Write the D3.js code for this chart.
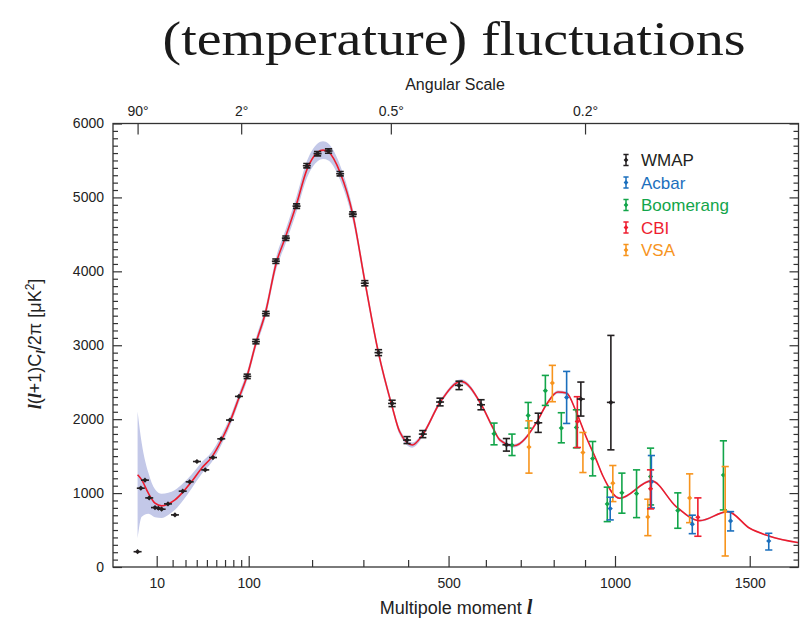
<!DOCTYPE html>
<html>
<head>
<meta charset="utf-8">
<script src="https://cdn.jsdelivr.net/npm/d3@7"></script>
<style>
body { margin: 0; background: #fff; }
svg text { font-family: "Liberation Sans", Arial, Helvetica, sans-serif; }
</style>
</head>
<body>
<div id="chart"></div>
<script>
// WMAP binned spectrum (multipole, value, lower, upper) in uK^2
let wmapL  = [2, 3, 4.5, 6.3, 9.1, 10.9, 12.8, 16.8, 21.7, 27.7, 33.6, 40.2, 48.3, 56.4, 65.6, 75.9, 87.1,
              98, 110, 124.4, 139.5, 155.3, 173, 190.7, 209.9, 230.3, 252.7, 278.1, 303, 332.5, 362.8,
              397.5, 435.2, 478.2, 527.4, 586.6, 658.2, 752.4, 886.4, 986];
let wmapV  = [207, 1066, 1175, 935, 804, 795, 782, 854, 705, 1026, 1152, 1427, 1314, 1481, 1734, 1988, 2308,
              2579, 3049, 3428, 4137, 4449, 4882, 5429, 5592, 5627, 5321, 4774, 3839, 2900, 2213,
              1717, 1798, 2232, 2457, 2195, 1653, 1951, 2272, 2227];
let wmapLo = [207, 1066, 1175, 935, 804, 795, 782, 854, 705, 1026, 1152, 1427, 1314, 1481, 1734, 1988, 2308,
              2549, 3019, 3398, 4107, 4419, 4852, 5399, 5562, 5597, 5291, 4744, 3804, 2860, 2170,
              1670, 1750, 2180, 2400, 2127, 1568, 1821, 2042, 1585];
let wmapHi = [207, 1066, 1175, 935, 804, 795, 782, 854, 705, 1026, 1152, 1427, 1314, 1481, 1734, 1988, 2308,
              2609, 3079, 3458, 4167, 4479, 4912, 5459, 5622, 5657, 5351, 4804, 3874, 2940, 2256,
              1764, 1846, 2284, 2514, 2263, 1738, 2081, 2502, 3133];

let acbarL  = [840.7, 983.7, 1127, 1277, 1424, 1577];
let acbarV  = [2294, 790, 1152, 579, 623, 352];
let acbarLo = [1942, 637, 799, 451, 488, 230];
let acbarHi = [2646, 944, 1508, 701, 749, 457];

let boomL  = [622.8, 674.3, 722, 774.2, 823.9, 872, 925, 973.8, 1023.6, 1074.5, 1124, 1223, 1396];
let boomV  = [1802, 1649, 2050, 2385, 1879, 1888, 1467, 854, 1003, 993, 1224, 763, 1243];
let boomLo = [1653, 1508, 1879, 2186, 1680, 1612, 1233, 614, 728, 668, 840, 524, 772];
let boomHi = [1947, 1798, 2226, 2592, 2087, 2127, 1698, 1080, 1270, 1314, 1608, 1003, 1707];

let cbiL  = [875, 1124, 1298];
let cbiV  = [1969, 1057, 673];
let cbiLo = [1617, 786, 416];
let cbiHi = [2304, 1314, 935];

let vsaL  = [724.4, 795.8, 893.1, 992.6, 1114.4, 1267, 1403];
let vsaV  = [1622, 2489, 1549, 1134, 678, 935, 755];
let vsaLo = [1270, 2236, 1278, 885, 424, 600, 149];
let vsaHi = [1978, 2728, 1820, 1373, 917, 1260, 1359];

// best fit model and the width of the shaded band around it
let modelL = [2, 3.3, 5.9, 9.1, 12.8, 17, 21.7, 28.2, 35.3, 44.7, 55, 66, 76, 87, 98, 110, 124, 140, 155, 173,
              191, 210, 220, 230, 253, 278, 303, 332, 363, 380, 410, 435, 478, 533, 587, 620, 639, 680,
              746, 777, 813, 840, 871, 903, 937, 960, 1016, 1127, 1217, 1305, 1413, 1500, 1577, 1720];
let modelV = [1247, 1179, 999, 863, 827, 854, 908, 1020, 1156, 1337, 1486, 1721, 1969, 2286, 2590, 3030, 3450, 4110, 4470, 4910,
              5380, 5610, 5640, 5615, 5330, 4770, 3870, 2910, 2170, 1833, 1650, 1790, 2225, 2511, 2200, 1880, 1721, 1640,
              1947, 2195, 2367, 2354, 2104, 1766, 1450, 1224, 931, 1165, 817, 627, 749, 524, 420, 320];
let bandW  = [857, 500, 280, 190, 165, 150, 135, 115, 95, 80, 70, 65, 60, 60, 60, 65, 70, 85, 95, 105,
              115, 120, 120, 115, 100, 85, 70, 55, 45, 40, 35, 32, 30, 30, 28, 26, 25, 24,
              23, 22, 22, 21, 20, 19, 18, 17, 15, 14, 13, 12, 11, 10, 10, 9];

let xMajor = [10, 100, 500, 1000, 1500];
let xMinor = [20, 30, 40, 50, 60, 70, 80, 90, 200, 300, 400, 600, 700, 800, 900];
let yMajor = [0, 1000, 2000, 3000, 4000, 5000, 6000];
let angles = [90, 2, 0.5, 0.2];
let angleToL = 180;

let series = [
  {name: "WMAP", color: "#231f20"},
  {name: "Acbar", color: "#1b6fbd"},
  {name: "Boomerang", color: "#12a54a"},
  {name: "CBI", color: "#ee1d2f"},
  {name: "VSA", color: "#f7941d"}
];

let width = 809, height = 625;
let plotLeft = 113, plotRight = 798.5, plotTop = 123.5, plotBottom = 567;

let svg = d3.select("#chart").append("svg")
    .attr("width", width)
    .attr("height", height);

let x = d3.scalePow().exponent(0.6).domain([10, 1000]).range([156.7, 615]);
let y = d3.scaleLinear().domain([0, 6000]).range([plotBottom, plotTop]);

svg.append("defs").append("clipPath").attr("id", "plotclip")
  .append("rect")
    .attr("x", plotLeft).attr("y", plotTop)
    .attr("width", plotRight - plotLeft).attr("height", plotBottom - plotTop);

// title
svg.append("text")
    .attr("x", 454)
    .attr("y", 55)
    .attr("text-anchor", "middle")
    .attr("textLength", 583)
    .attr("lengthAdjust", "spacingAndGlyphs")
    .style("font-family", "'Liberation Serif', 'DejaVu Serif', serif")
    .style("font-size", "48px")
    .attr("fill", "#1a1a1a")
    .text("(temperature) fluctuations");

let plot = svg.append("g").attr("clip-path", "url(#plotclip)");

let model = modelL.map((l, i) => ({l: l, v: modelV[i], w: bandW[i]}));

plot.append("path")
    .datum(model)
    .attr("fill", "#c3c8e8")
    .attr("d", d3.area()
        .x(d => x(d.l))
        .y0(d => y(d.v - d.w))
        .y1(d => y(d.v + d.w))
        .curve(d3.curveMonotoneX));

plot.append("path")
    .datum(model)
    .attr("fill", "none")
    .attr("stroke", "#ec1c2c")
    .attr("stroke-width", 1.6)
    .attr("d", d3.line()
        .x(d => x(d.l))
        .y(d => y(d.v))
        .curve(d3.curveMonotoneX));

// axes
let axisColor = "#333";
function styleAxis(g) {
  g.select(".domain").remove();
  g.selectAll(".tick line").attr("stroke", axisColor).attr("stroke-width", 1.2);
  g.selectAll(".tick text").attr("fill", "#222").style("font-size", "14px");
}

svg.append("g").attr("transform", "translate(0," + plotBottom + ")")
    .call(d3.axisBottom(x).tickValues(xMajor).tickFormat(d3.format("d")).tickSizeInner(-11).tickSizeOuter(0).tickPadding(11))
    .call(styleAxis);
svg.append("g").attr("transform", "translate(0," + plotBottom + ")")
    .call(d3.axisBottom(x).tickValues(xMinor).tickFormat("").tickSizeInner(-7).tickSizeOuter(0))
    .call(styleAxis);

let yMinor = d3.range(100, 6000, 100).filter(v => v % 1000 != 0);
svg.append("g").attr("transform", "translate(" + plotLeft + ",0)")
    .call(d3.axisLeft(y).tickValues(yMajor).tickFormat(d3.format("d")).tickSizeInner(-9).tickSizeOuter(0).tickPadding(9))
    .call(styleAxis);
svg.append("g").attr("transform", "translate(" + plotLeft + ",0)")
    .call(d3.axisLeft(y).tickValues(yMinor).tickFormat("").tickSizeInner(-5).tickSizeOuter(0))
    .call(styleAxis);
svg.append("g").attr("transform", "translate(" + plotRight + ",0)")
    .call(d3.axisRight(y).tickValues(yMajor).tickFormat("").tickSizeInner(-9).tickSizeOuter(0))
    .call(styleAxis);
svg.append("g").attr("transform", "translate(" + plotRight + ",0)")
    .call(d3.axisRight(y).tickValues(yMinor).tickFormat("").tickSizeInner(-5).tickSizeOuter(0))
    .call(styleAxis);

svg.append("g").attr("transform", "translate(0," + plotTop + ")")
    .call(d3.axisTop(x).tickValues(angles.map(a => angleToL / a))
        .tickFormat((d, i) => angles[i] + "°").tickSizeInner(-11).tickSizeOuter(0).tickPadding(8))
    .call(styleAxis);

svg.append("rect")
    .attr("x", plotLeft).attr("y", plotTop)
    .attr("width", plotRight - plotLeft).attr("height", plotBottom - plotTop)
    .attr("fill", "none")
    .attr("stroke", axisColor)
    .attr("stroke-width", 1.3);

// axis titles
svg.append("text")
    .attr("x", 455).attr("y", 90)
    .attr("text-anchor", "middle")
    .style("font-size", "16px")
    .attr("fill", "#222")
    .text("Angular Scale");

let xt = svg.append("text")
    .attr("x", 456).attr("y", 614)
    .attr("text-anchor", "middle")
    .style("font-size", "18px")
    .attr("fill", "#222");
xt.append("tspan").text("Multipole moment  ");
xt.append("tspan").text("l")
    .style("font-family", "'Liberation Serif', serif")
    .style("font-style", "italic").style("font-weight", "bold").style("font-size", "20px");

let yt = svg.append("text")
    .attr("transform", "translate(41,344) rotate(-90)")
    .attr("text-anchor", "middle")
    .style("font-size", "18px")
    .attr("fill", "#222");
let ell = s => s.style("font-family", "'Liberation Serif', serif").style("font-style", "italic").style("font-weight", "bold");
yt.append("tspan").text("l").call(ell);
yt.append("tspan").text("(");
yt.append("tspan").text("l").call(ell);
yt.append("tspan").text("+1)C");
yt.append("tspan").text("l").call(ell).attr("dy", 4).style("font-size", "13px");
yt.append("tspan").text("/2π [μK").attr("dy", -4);
yt.append("tspan").text("2").attr("dy", -7).style("font-size", "12px");
yt.append("tspan").text("]").attr("dy", 7);

// data points
function drawSet(ls, vs, lo, hi, color, wmap) {
  let pts = ls.map((l, i) => ({l: l, v: vs[i], lo: lo[i], hi: hi[i]}));
  let g = plot.append("g").attr("stroke", color).attr("fill", color);
  let p = g.selectAll("g").data(pts).enter().append("g")
      .attr("transform", d => "translate(" + x(d.l) + ",0)");
  let withBar = p.filter(d => d.hi > d.lo);
  withBar.append("line")
      .attr("y1", d => y(d.lo)).attr("y2", d => y(d.hi))
      .attr("stroke-width", 1.6);
  withBar.append("line")
      .attr("x1", -3.6).attr("x2", 3.6)
      .attr("y1", d => y(d.lo)).attr("y2", d => y(d.lo))
      .attr("stroke-width", 1.6);
  withBar.append("line")
      .attr("x1", -3.6).attr("x2", 3.6)
      .attr("y1", d => y(d.hi)).attr("y2", d => y(d.hi))
      .attr("stroke-width", 1.6);
  if (wmap) {
    p.append("line")
        .attr("x1", -4).attr("x2", 4)
        .attr("y1", d => y(d.v)).attr("y2", d => y(d.v))
        .attr("stroke-width", 1.6);
  }
  p.append("path")
      .attr("stroke", "none")
      .attr("d", d => "M0," + (y(d.v) - 2.6) + "L2.6," + y(d.v) + "L0," + (y(d.v) + 2.6) + "L-2.6," + y(d.v) + "Z");
}

drawSet(boomL, boomV, boomLo, boomHi, series[2].color, false);
drawSet(vsaL, vsaV, vsaLo, vsaHi, series[4].color, false);
drawSet(acbarL, acbarV, acbarLo, acbarHi, series[1].color, false);
drawSet(cbiL, cbiV, cbiLo, cbiHi, series[3].color, false);
drawSet(wmapL, wmapV, wmapLo, wmapHi, series[0].color, true);

// legend
let legend = svg.append("g").attr("transform", "translate(626,160)");
let item = legend.selectAll("g").data(series).enter().append("g")
    .attr("transform", (d, i) => "translate(0," + (i * 22.5) + ")");
item.append("line").attr("y1", -5.5).attr("y2", 5.5).attr("stroke", d => d.color).attr("stroke-width", 1.5);
item.append("line").attr("x1", -2.6).attr("x2", 2.6).attr("y1", -5.5).attr("y2", -5.5).attr("stroke", d => d.color).attr("stroke-width", 1.5);
item.append("line").attr("x1", -2.6).attr("x2", 2.6).attr("y1", 5.5).attr("y2", 5.5).attr("stroke", d => d.color).attr("stroke-width", 1.5);
item.append("path").attr("d", "M0,-2.4L2.4,0L0,2.4L-2.4,0Z").attr("fill", d => d.color);
item.append("text")
    .attr("x", 15).attr("y", 6)
    .style("font-size", "17px")
    .attr("fill", d => d.color)
    .text(d => d.name);
</script>
</body>
</html>
